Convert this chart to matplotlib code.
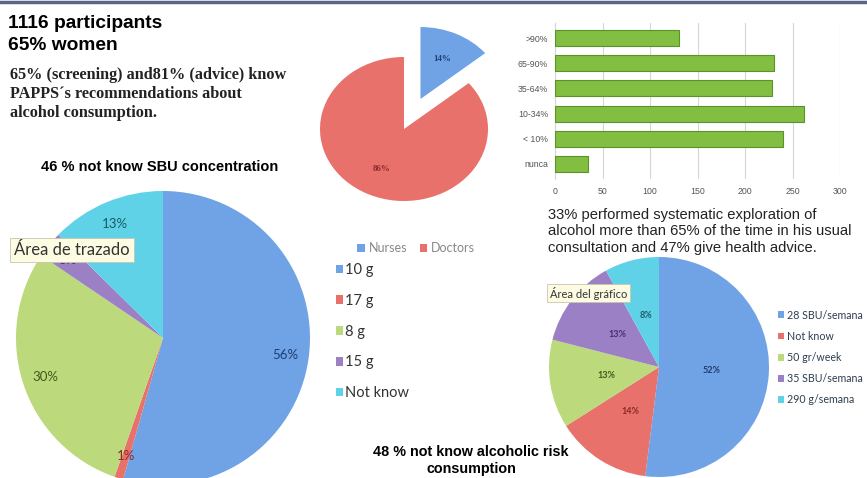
import matplotlib.pyplot as plt
from matplotlib.lines import Line2D

W, H = 867, 478

# top pie: who answered
prof_labels = ["Nurses", "Doctors"]
prof_values = [14, 86]

# bars: % of consultations with systematic exploration
freq_labels = [">90%", "65-90%", "35-64%", "10-34%", "< 10%", "nunca"]
freq_values = [130, 230, 228, 262, 240, 35]
freq_ticks = [0, 50, 100, 150, 200, 250, 300]

# SBU concentration answers
sbu_labels = ["10 g", "17 g", "8 g", "15 g", "Not know"]
sbu_values = [56, 1, 30, 3, 13]

# alcoholic risk consumption answers
risk_labels = ["28 SBU/semana", "Not know", "50 gr/week", "35 SBU/semana", "290 g/semana"]
risk_values = [52, 14, 13, 13, 8]

pie_colors = ["#6fa3e6", "#e8716c", "#bcd97c", "#9b80c6", "#5fd2e8"]
pct_colors = ["#1f3d70", "#8a2a26", "#3f5c1a", "#45306e", "#1b5a66"]

SANS = ["Liberation Sans", "DejaVu Sans"]
SERIF = ["Liberation Serif", "DejaVu Serif"]
CAL = ["Lato", "DejaVu Sans"]

fig = plt.figure(figsize=(W / 100, H / 100), dpi=100)
fig.patch.set_facecolor("white")


def px_axes(x0, y0, w, h):
    return fig.add_axes([x0 / W, 1 - (y0 + h) / H, w / W, h / H])


def ftext(x, y, s, **kw):
    return fig.text(x / W, 1 - y / H, s, **kw)


# top border of the slide
fig.add_artist(Line2D([0, 1], [1 - 1.5 / H, 1 - 1.5 / H], color="#5d6585", lw=2.5))

# ---- header texts
ftext(8, 23, "1116 participants", family=SANS, weight="bold", fontsize=13.8, va="center")
ftext(8, 45, "65% women", family=SANS, weight="bold", fontsize=13.8, va="center")
serif_lines = ["65% (screening) and81% (advice) know",
               "PAPPS´s recommendations about",
               "alcohol consumption."]
for i, line in enumerate(serif_lines):
    ftext(10, 75 + i * 19, line, family=SERIF, weight="bold", fontsize=11.7,
          va="center", color="#222222")

# ---- top pie (Nurses / Doctors), slightly stretched like the slide
cx, cy, rx, ry = 404, 129, 84, 72
ax1 = px_axes(cx - 1.5 * rx, cy - 1.5 * ry, 3 * rx, 3 * ry)
w1, t1, a1 = ax1.pie(prof_values, colors=[pie_colors[0], pie_colors[1]],
                     explode=[0.46, 0], startangle=90, counterclock=False,
                     autopct="%d%%", pctdistance=0.62)
for t, c in zip(a1, [pct_colors[0], pct_colors[1]]):
    t.set_color(c)
    t.set_fontsize(6.5)
    t.set_family(SERIF)
    t.set_weight("bold")
ax1.set_aspect("auto")
ax1.set_xlim(-1.5, 1.5)
ax1.set_ylim(-1.5, 1.5)

# ---- bar chart
axb = px_axes(555, 23, 285, 156)
ypos = list(range(len(freq_labels)))
axb.barh(ypos, freq_values, height=0.64, color="#82be42", edgecolor="#5a9327",
         linewidth=0.8, zorder=3)
axb.set_yticks(ypos)
axb.set_yticklabels(freq_labels)
axb.set_ylim(5.6, -0.6)
axb.set_xlim(0, 300)
axb.set_xticks(freq_ticks)
axb.grid(axis="x", color="#d6d6d6", lw=0.8, zorder=0)
for s in ["top", "right", "bottom"]:
    axb.spines[s].set_visible(False)
axb.spines["left"].set_color("#d6d6d6")
axb.tick_params(length=0, labelsize=6.3, labelcolor="#555555")
axb.tick_params(axis="y", pad=5)
axb.tick_params(axis="x", pad=6)
for lbl in axb.get_xticklabels() + axb.get_yticklabels():
    lbl.set_family(SANS)

# ---- text under bar chart
bar_lines = ["33% performed systematic exploration of",
             "alcohol more than 65% of the time in his usual",
             "consultation and 47% give health advice."]
for i, line in enumerate(bar_lines):
    ftext(548, 215 + i * 16.5, line, family=SANS, fontsize=10.6, va="center",
          color="#222222")

# ---- bottom-left pie (SBU concentration)
ftext(160, 167, "46 % not know SBU concentration", family=SANS, weight="bold",
      fontsize=10.5, ha="center", va="center")
cx, cy, r = 163, 338, 147
ax2 = px_axes(cx - r, cy - r, 2 * r, 2 * r)
tot2 = sum(sbu_values)
w2, t2, a2 = ax2.pie(sbu_values, colors=pie_colors, startangle=90, counterclock=False,
                     autopct=lambda p: f"{p * tot2 / 100:.0f}%", pctdistance=0.84)
for t, c in zip(a2, pct_colors):
    t.set_color(c)
    t.set_fontsize(9.5)
    t.set_family(CAL)
ax2.set_xlim(-1, 1)
ax2.set_ylim(-1, 1)

# tooltip box that hides the 3% label on the slide
ftext(14, 250, "Área de trazado", family=CAL, fontsize=12, va="center", color="#333333",
      bbox=dict(boxstyle="square,pad=0.25", fc="#fdfbe2", ec="#c8c6b0", lw=0.6))

# legend of top pie
fig.legend(w1, prof_labels, loc="center left", bbox_to_anchor=(346 / W, 1 - 248 / H),
           ncol=2, frameon=False, labelcolor="#888888",
           handlelength=0.6, handleheight=0.6, handletextpad=0.3, columnspacing=1.0,
           prop={"family": CAL, "size": 9})

# legend of SBU pie
fig.legend(w2, sbu_labels, loc="upper left", bbox_to_anchor=(323 / W, 1 - 250 / H),
           frameon=False, labelcolor="#333333",
           handlelength=0.45, handleheight=0.55, handletextpad=0.15, labelspacing=1.15,
           prop={"family": CAL, "size": 10.5})

# ---- bottom-right pie (risk consumption)
ftext(471, 452, "48 % not know alcoholic risk", family=SANS, weight="bold",
      fontsize=10.4, ha="center", va="center")
ftext(471, 469, "consumption", family=SANS, weight="bold", fontsize=10.4,
      ha="center", va="center")
cx, cy, r = 659, 367, 110
ax3 = px_axes(cx - r, cy - r, 2 * r, 2 * r)
w3, t3, a3 = ax3.pie(risk_values, colors=pie_colors, startangle=90, counterclock=False,
                     autopct="%d%%", pctdistance=0.48)
for t, c in zip(a3, pct_colors):
    t.set_color(c)
    t.set_fontsize(6.5)
    t.set_family(CAL)
    t.set_weight("bold")
ax3.set_xlim(-1, 1)
ax3.set_ylim(-1, 1)

ftext(550, 293, "Área del gráfico", family=CAL, fontsize=8, va="center", color="#333333",
      bbox=dict(boxstyle="square,pad=0.25", fc="#fdfbe2", ec="#c8c6b0", lw=0.6))

fig.legend(w3, risk_labels, loc="upper left", bbox_to_anchor=(768 / W, 1 - 300 / H),
           frameon=False, labelcolor="#2c3e50",
           handlelength=0.55, handleheight=0.6, handletextpad=0.35, labelspacing=0.95,
           prop={"family": CAL, "size": 7.7})

fig.savefig("out.png", dpi=100)
